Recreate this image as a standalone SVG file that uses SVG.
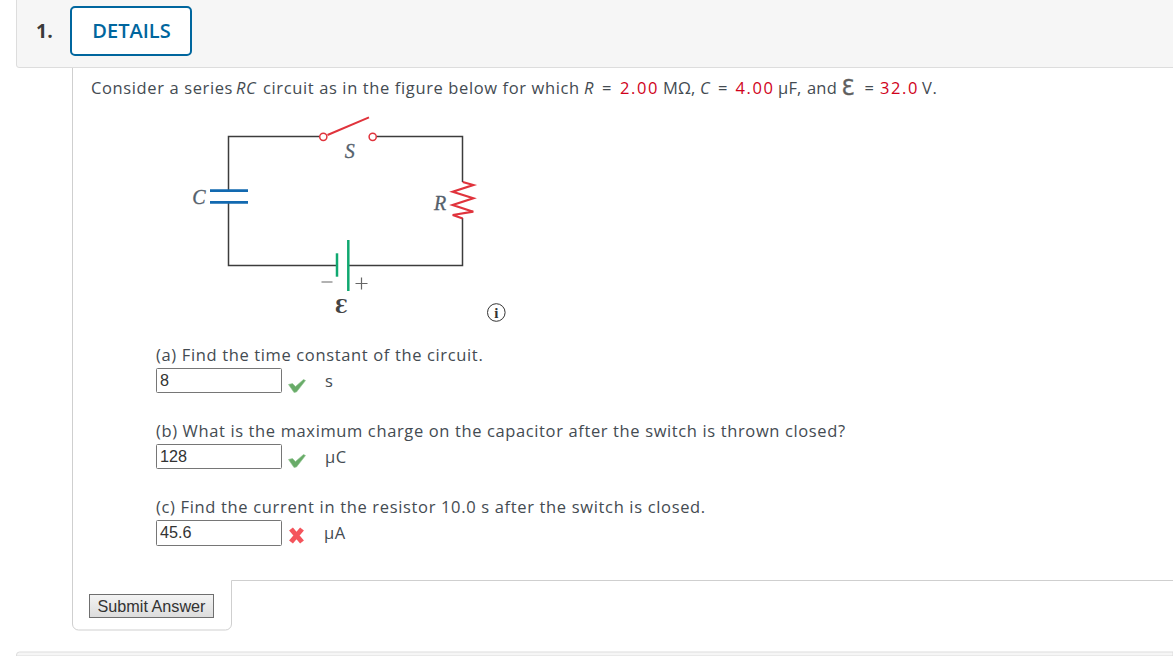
<svg xmlns="http://www.w3.org/2000/svg" width="1173" height="656" viewBox="0 0 1173 656">
<style>
.t{font-family:"Open Sans","DejaVu Sans",sans-serif;font-size:16.5px;fill:#444b52;letter-spacing:.625px}
.r{fill:#d0021b;letter-spacing:1.6px}
.n{letter-spacing:.2px}
.i{font-style:italic}
.a{font-family:"Liberation Sans",Arial,sans-serif;font-size:16.2px;fill:#333}
.f{font-family:"Liberation Serif",serif;fill:#54606b;font-size:20px;font-style:italic;text-anchor:middle;stroke:#54606b;stroke-width:.3}
.w{fill:none;stroke:#3c3c3c;stroke-width:1.5}
.box{fill:#fff;stroke:#767676;stroke-width:1}
</style>
<defs>
<linearGradient id="btn" x1="0" y1="0" x2="0" y2="1"><stop offset="0" stop-color="#f4f4f4"/><stop offset="1" stop-color="#dcdcdc"/></linearGradient>
<path id="chk" d="M-8.500 -0.500 L-4.500 -1.500 L-1.500 1.500 L6.500 -5.500 L8.500 -4.500 L-0.500 7 L-3 7.500Z" fill="#68ab68" stroke="#8fc48f" stroke-width=".6"/>
</defs>
<rect width="1173" height="656" fill="#fff"/>
<g id="header">
<path d="M1173 67.500H19a2.500 2.500 0 0 1-2.500-2.500V0H1173Z" fill="#f6f6f6"/>
<path d="M1173 67.500H19a2.500 2.500 0 0 1-2.500-2.500V0" fill="none" stroke="#dddddd"/>
<text x="36" y="37.500" font-family="'Open Sans',sans-serif" font-size="19.500" font-weight="700" fill="#3a3a3a">1.</text>
<rect x="71" y="7" width="120" height="48" rx="4" fill="#fff" stroke="#00669e" stroke-width="2"/>
<text x="131.500" y="37.500" text-anchor="middle" font-family="'Open Sans',sans-serif" font-size="20" font-weight="600" fill="#00669e">DETAILS</text>
</g>
<g id="panel">
<path d="M72.500 68V624a6 6 0 0 0 6 6H225.500a6 6 0 0 0 6-6V580.500H1173" fill="none" stroke="#cfcfcf"/>
<path d="M16.500 656V655a3 3 0 0 1 3-3H1173V656Z" fill="#f6f6f6" stroke="#dddddd"/>
</g>
<g id="intro">
<text class="t" y="94"><tspan x="91">Consider a series </tspan><tspan x="236" class="i">RC</tspan><tspan x="263">circuit as in the figure below for which</tspan><tspan x="584" class="i">R</tspan><tspan x="602">=</tspan><tspan x="620" class="r">2.00</tspan><tspan x="663" class="n">MΩ,</tspan><tspan x="700" class="i">C</tspan><tspan x="718">=</tspan><tspan x="735.500" class="r">4.00</tspan><tspan x="778" class="n">μF,</tspan><tspan x="807" class="n">and</tspan><tspan x="864.500">=</tspan><tspan x="880" class="r">32.0</tspan><tspan x="922">V.</tspan></text>
<text x="841.500" y="94.500" font-family="'DejaVu Sans',sans-serif" font-size="21" fill="#5e5e5e" stroke="#5e5e5e" stroke-width=".4">Ɛ</text>
</g>
<g id="connectors">
<path class="w" d="M319 136.500H228.500V265.500H337M349 265.500H462.500V218M462.500 182V136.500H377"/>
</g>
<g id="switch">
<path d="M327.500 135L369 117.300" fill="none" stroke="#e0333c" stroke-width="2"/>
<circle cx="323.300" cy="136.800" r="3.600" fill="#fff" stroke="#e0333c" stroke-width="1.500"/>
<circle cx="372.700" cy="136.800" r="3.600" fill="#fff" stroke="#e0333c" stroke-width="1.500"/>
<text class="f" x="349.700" y="158">S</text>
</g>
<g id="capacitor">
<rect x="226" y="192" width="5" height="9" fill="#fff"/>
<path d="M210 190.700H248M210 202.300H248" stroke="#1269b0" stroke-width="2.800" fill="none"/>
<text class="f" x="199" y="203.500">C</text>
</g>
<g id="resistor">
<path d="M462.700 182L473.300 185 452.700 191.700 473.300 198.300 452.700 205 473.300 211.700 452.700 215 462.700 218.500" fill="none" stroke="#e0333c" stroke-width="2.200"/>
<text class="f" x="440" y="209.500">R</text>
</g>
<g id="battery">
<path d="M337 253.300V276.700" stroke="#10a870" stroke-width="2.500" fill="none"/>
<path d="M348.300 240V291" stroke="#10a870" stroke-width="2.500" fill="none"/>
<path d="M321.500 282H332.500M355.500 283.500H367.500M361.500 277.500V289.500" stroke="#666" stroke-width="1.200" fill="none"/>
<text x="341.500" y="312.500" text-anchor="middle" font-family="'DejaVu Serif',serif" font-size="18" font-weight="700" fill="#444">Ɛ</text>
</g>
<g id="info">
<circle cx="496.300" cy="312.500" r="8.800" fill="#fff" stroke="#333" stroke-width="1"/>
<text x="496.300" y="318" text-anchor="middle" font-family="'Liberation Serif',serif" font-size="15" font-weight="700" fill="#333">i</text>
</g>
<g id="part-a">
<text class="t" x="156" y="361" style="letter-spacing:.64px">(a) Find the time constant of the circuit.</text>
<rect class="box" x="156.500" y="368.500" width="125" height="24" rx="1"/>
<text class="a" x="160" y="386">8</text>
<use href="#chk" x="297" y="385"/>
<text class="t" x="325" y="387">s</text>
</g>
<g id="part-b">
<text class="t" x="156" y="437">(b) What is the maximum charge on the capacitor after the switch is thrown closed?</text>
<rect class="box" x="156.500" y="444.500" width="125" height="24" rx="1"/>
<text class="a" x="160" y="462">128</text>
<use href="#chk" x="297" y="460"/>
<text class="t" x="325" y="463">μC</text>
</g>
<g id="part-c">
<text class="t" x="156" y="513" style="letter-spacing:.66px">(c) Find the current in the resistor 10.0 s after the switch is closed.</text>
<rect class="box" x="156.500" y="520.500" width="125" height="25" rx="1"/>
<text class="a" x="160" y="538">45.6</text>
<path d="M291 529L302 542M302 529L291 542" stroke="#f4545c" stroke-width="5" fill="none"/>
<text class="t" x="324" y="539">μA</text>
</g>
<g id="submit">
<rect x="89.500" y="594.500" width="124" height="23" fill="url(#btn)" stroke="#6f6f6f"/>
<text class="a" x="151.500" y="612" text-anchor="middle">Submit Answer</text>
</g>
</svg>
